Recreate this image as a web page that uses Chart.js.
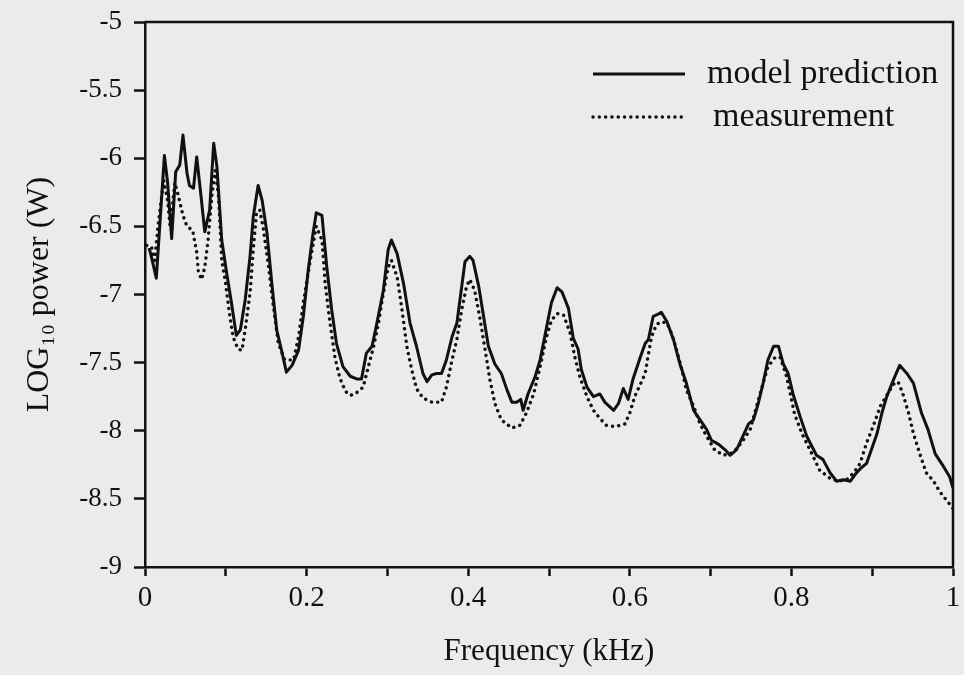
<!DOCTYPE html>
<html>
<head>
<meta charset="utf-8">
<script src="https://cdn.jsdelivr.net/npm/chart.js@4.4.0/dist/chart.umd.min.js"></script>
<style>
    html, body { margin: 0; padding: 0; background: #ebebeb; }
    #wrap { width: 964px; height: 675px; }
</style>
</head>
<body>
<div id="wrap"><canvas id="spectrum" width="964" height="675"></canvas></div>
<script>

// model prediction (solid), frequency in kHz / log10 power in W
const modelFreq = [0.005, 0.007, 0.014, 0.019, 0.024, 0.028, 0.033, 0.038, 0.043, 0.047,
    0.052, 0.055, 0.060, 0.064, 0.069, 0.074, 0.080, 0.085, 0.089, 0.095,
    0.101, 0.107, 0.113, 0.118, 0.124, 0.130, 0.134, 0.140, 0.145, 0.151,
    0.157, 0.163, 0.169, 0.175, 0.182, 0.190, 0.196, 0.202, 0.208, 0.212,
    0.219, 0.225, 0.231, 0.237, 0.245, 0.254, 0.262, 0.268, 0.274, 0.281,
    0.287, 0.295, 0.301, 0.305, 0.312, 0.320, 0.328, 0.336, 0.344, 0.349,
    0.355, 0.361, 0.367, 0.373, 0.380, 0.386, 0.392, 0.396, 0.402, 0.406,
    0.413, 0.419, 0.425, 0.433, 0.441, 0.448, 0.454, 0.460, 0.465, 0.468,
    0.474, 0.483, 0.489, 0.497, 0.503, 0.510, 0.516, 0.524, 0.530, 0.536,
    0.540, 0.547, 0.555, 0.563, 0.569, 0.580, 0.586, 0.592, 0.598, 0.604,
    0.613, 0.619, 0.623, 0.629, 0.633, 0.639, 0.646, 0.654, 0.662, 0.670,
    0.679, 0.687, 0.695, 0.701, 0.710, 0.718, 0.724, 0.732, 0.740, 0.747,
    0.753, 0.759, 0.765, 0.771, 0.778, 0.784, 0.790, 0.796, 0.802, 0.811,
    0.819, 0.831, 0.839, 0.848, 0.856, 0.864, 0.873, 0.879, 0.885, 0.893,
    0.899, 0.906, 0.912, 0.918, 0.926, 0.934, 0.943, 0.951, 0.961, 0.969,
    0.978, 0.988, 0.996, 1.000];
const modelPower = [-6.66, -6.70, -6.88, -6.43, -5.98, -6.18, -6.59, -6.10, -6.05, -5.83,
    -6.11, -6.20, -6.22, -5.99, -6.26, -6.54, -6.38, -5.89, -6.06, -6.60,
    -6.84, -7.06, -7.30, -7.26, -7.04, -6.72, -6.43, -6.20, -6.31, -6.55,
    -6.92, -7.26, -7.41, -7.57, -7.52, -7.41, -7.16, -6.82, -6.55, -6.40,
    -6.42, -6.80, -7.11, -7.36, -7.53, -7.60, -7.62, -7.62, -7.43, -7.38,
    -7.21, -6.97, -6.67, -6.60, -6.70, -6.92, -7.21, -7.38, -7.58, -7.64,
    -7.59, -7.58, -7.58, -7.48, -7.31, -7.21, -6.94, -6.76, -6.72, -6.75,
    -6.94, -7.16, -7.38, -7.51, -7.58, -7.70, -7.79, -7.79, -7.77, -7.85,
    -7.73, -7.60, -7.48, -7.24, -7.06, -6.95, -6.98, -7.10, -7.32, -7.40,
    -7.55, -7.68, -7.75, -7.73, -7.79, -7.85, -7.80, -7.69, -7.77, -7.62,
    -7.46, -7.36, -7.33, -7.16, -7.15, -7.13, -7.20, -7.33, -7.51, -7.65,
    -7.85, -7.92, -7.99, -8.07, -8.10, -8.14, -8.18, -8.14, -8.04, -7.95,
    -7.92, -7.80, -7.65, -7.48, -7.38, -7.38, -7.51, -7.58, -7.73, -7.90,
    -8.04, -8.18, -8.21, -8.31, -8.37, -8.36, -8.37, -8.32, -8.28, -8.24,
    -8.14, -8.02, -7.87, -7.75, -7.63, -7.52, -7.58, -7.65, -7.87, -7.99,
    -8.17, -8.26, -8.34, -8.42];

// measurement (dotted)
const measFreq = [0.002, 0.008, 0.012, 0.016, 0.023, 0.028, 0.031, 0.037, 0.041, 0.047,
    0.052, 0.059, 0.064, 0.066, 0.070, 0.074, 0.078, 0.083, 0.087, 0.091,
    0.095, 0.099, 0.105, 0.109, 0.115, 0.120, 0.124, 0.130, 0.134, 0.138,
    0.142, 0.146, 0.153, 0.159, 0.165, 0.173, 0.184, 0.190, 0.196, 0.204,
    0.212, 0.219, 0.223, 0.229, 0.235, 0.241, 0.248, 0.254, 0.260, 0.270,
    0.276, 0.283, 0.289, 0.295, 0.301, 0.305, 0.312, 0.318, 0.324, 0.330,
    0.336, 0.344, 0.355, 0.367, 0.373, 0.380, 0.386, 0.392, 0.398, 0.402,
    0.408, 0.415, 0.421, 0.427, 0.433, 0.441, 0.454, 0.464, 0.472, 0.481,
    0.489, 0.497, 0.503, 0.510, 0.518, 0.526, 0.532, 0.538, 0.547, 0.555,
    0.563, 0.571, 0.582, 0.594, 0.600, 0.606, 0.613, 0.619, 0.623, 0.627,
    0.633, 0.639, 0.646, 0.652, 0.658, 0.664, 0.670, 0.679, 0.687, 0.695,
    0.705, 0.716, 0.728, 0.738, 0.749, 0.757, 0.765, 0.771, 0.780, 0.786,
    0.794, 0.804, 0.813, 0.823, 0.835, 0.848, 0.858, 0.868, 0.877, 0.885,
    0.893, 0.901, 0.910, 0.918, 0.926, 0.932, 0.938, 0.945, 0.951, 0.959,
    0.967, 0.976, 0.984, 0.992, 1.000];
const measPower = [-6.64, -6.65, -6.75, -6.50, -6.16, -6.31, -6.50, -6.18, -6.27, -6.42,
    -6.50, -6.53, -6.69, -6.83, -6.89, -6.80, -6.60, -6.26, -6.09, -6.28,
    -6.75, -6.89, -7.16, -7.31, -7.40, -7.41, -7.26, -6.99, -6.67, -6.40,
    -6.38, -6.50, -6.80, -7.09, -7.36, -7.48, -7.48, -7.31, -7.06, -6.77,
    -6.50, -6.60, -6.92, -7.21, -7.46, -7.61, -7.71, -7.74, -7.73, -7.68,
    -7.54, -7.38, -7.21, -6.99, -6.80, -6.75, -6.87, -7.11, -7.38, -7.55,
    -7.69, -7.76, -7.79, -7.79, -7.68, -7.48, -7.33, -7.11, -6.94, -6.89,
    -6.97, -7.19, -7.41, -7.63, -7.80, -7.92, -7.98, -7.96, -7.87, -7.73,
    -7.53, -7.31, -7.19, -7.14, -7.15, -7.28, -7.46, -7.60, -7.75, -7.85,
    -7.91, -7.96, -7.97, -7.95, -7.87, -7.75, -7.66, -7.58, -7.44, -7.31,
    -7.22, -7.20, -7.21, -7.29, -7.41, -7.54, -7.70, -7.82, -7.95, -8.04,
    -8.14, -8.18, -8.16, -8.09, -7.99, -7.82, -7.65, -7.53, -7.46, -7.46,
    -7.60, -7.88, -8.02, -8.14, -8.29, -8.35, -8.37, -8.36, -8.31, -8.24,
    -8.09, -7.97, -7.82, -7.74, -7.66, -7.64, -7.73, -7.87, -8.02, -8.17,
    -8.31, -8.37, -8.45, -8.51, -8.57];

const xTicks = [0, 0.2, 0.4, 0.6, 0.8, 1];
const yTicks = [-5, -5.5, -6, -6.5, -7, -7.5, -8, -8.5, -9];

const INK = '#111';
const SERIF = '"Liberation Serif", "Times New Roman", serif';


function toPoints(xs, ys) {
    return xs.map((x, i) => ({ x: x, y: ys[i] }));
}

// scales should not push the plot area in for overhanging labels
function noLabelPadding(scale) {
    scale.paddingTop = 0;
    scale.paddingBottom = 0;
    scale.paddingLeft = 0;
    scale.paddingRight = 0;
}


// box round the plot (top and right sides)
const framePlugin = {
    id: 'frame',
    afterDraw(chart) {
        const { ctx, chartArea } = chart;
        ctx.save();
        ctx.strokeStyle = INK;
        ctx.lineWidth = 2.5;
        ctx.beginPath();
        ctx.moveTo(chartArea.left, chartArea.top);
        ctx.lineTo(chartArea.right, chartArea.top);
        ctx.lineTo(chartArea.right, chartArea.bottom);
        ctx.stroke();
        ctx.restore();
    }
};

// legend inside the plot, upper right
const insideLegend = {
    id: 'insideLegend',
    afterDatasetsDraw(chart) {
        const { ctx, chartArea } = chart;
        ctx.save();
        chart.data.datasets.forEach((ds, i) => {
            const y = chartArea.top + 52 + i * 43;
            ctx.beginPath();
            ctx.setLineDash(ds.borderDash || []);
            ctx.lineCap = ds.borderCapStyle || 'butt';
            ctx.lineWidth = ds.borderWidth;
            ctx.strokeStyle = ds.borderColor;
            ctx.moveTo(chartArea.left + 448, y);
            ctx.lineTo(chartArea.left + 540, y);
            ctx.stroke();
            ctx.setLineDash([]);
            ctx.fillStyle = INK;
            ctx.font = '34px ' + SERIF;
            ctx.textBaseline = 'middle';
            ctx.fillText(ds.label, chartArea.left + 562 + i * 6, y);
        });
        ctx.restore();
    }
};


document.addEventListener('DOMContentLoaded', function() {
    const ctx = document.getElementById('spectrum').getContext('2d');
    new Chart(ctx, {
        type: 'line',
        data: {
            datasets: [{
                label: 'model prediction',
                data: toPoints(modelFreq, modelPower),
                borderColor: INK,
                borderWidth: 3,
                borderJoinStyle: 'round',
                pointRadius: 0,
                tension: 0,
                fill: false
            }, {
                label: 'measurement',
                data: toPoints(measFreq, measPower),
                borderColor: INK,
                borderWidth: 3.4,
                borderDash: [0.1, 6.2],
                borderCapStyle: 'round',
                pointRadius: 0,
                tension: 0,
                fill: false
            }]
        },
        options: {
            responsive: false,
            animation: false,
            devicePixelRatio: 1,
            layout: { padding: { top: 22, right: 11, left: 0, bottom: 0 } },
            plugins: {
                legend: { display: false },
                tooltip: { enabled: false }
            },
            scales: {
                x: {
                    type: 'linear',
                    min: 0,
                    max: 1,
                    afterFit: scale => {
                        scale.height = 108;
                        noLabelPadding(scale);
                    },
                    ticks: {
                        stepSize: 0.1,
                        autoSkip: false,
                        maxRotation: 0,
                        padding: 5,
                        color: INK,
                        font: { family: SERIF, size: 29 },
                        callback: function(value) {
                            const v = Math.round(value * 10) / 10;
                            return xTicks.includes(v) ? String(v) : '';
                        }
                    },
                    grid: {
                        drawOnChartArea: false,
                        tickLength: 9,
                        tickWidth: 2.5,
                        tickColor: INK
                    },
                    border: { color: INK, width: 2.5 },
                    title: {
                        display: true,
                        text: 'Frequency (kHz)',
                        color: INK,
                        font: { family: SERIF, size: 31 },
                        padding: { top: 0, bottom: 5 }
                    }
                },
                y: {
                    min: -9,
                    max: -5,
                    afterFit: scale => {
                        scale.width = 145;
                        noLabelPadding(scale);
                    },
                    afterBuildTicks: scale => {
                        scale.ticks = yTicks.map(v => ({ value: v }));
                    },
                    ticks: {
                        padding: 12,
                        color: INK,
                        font: { family: SERIF, size: 27 },
                        callback: value => String(value)
                    },
                    grid: {
                        drawOnChartArea: false,
                        tickLength: 11,
                        tickWidth: 2.5,
                        tickColor: INK
                    },
                    border: { color: INK, width: 2.5 },
                    title: {
                        display: true,
                        text: 'LOG\u2081\u2080 power (W)',
                        color: INK,
                        font: { family: SERIF, size: 32 },
                        padding: { top: 20, bottom: 0 }
                    }
                }
            }
        },
        plugins: [framePlugin, insideLegend]
    });
});
</script>
</body>
</html>
